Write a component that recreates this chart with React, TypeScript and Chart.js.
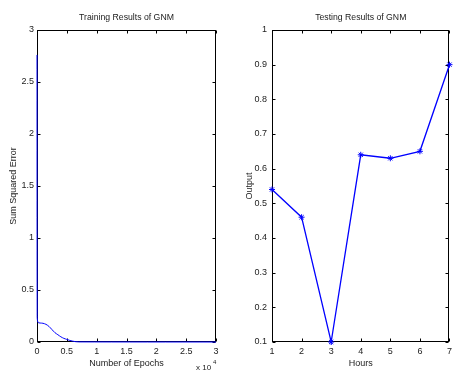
import React, { useEffect, useRef } from "react";
import { Chart, registerables } from "chart.js";

Chart.register(...registerables);

const trainEpochs = [0, 30, 150, 1000, 1500, 2000, 2500, 3000, 3500, 4000, 4500, 5000, 5500, 6000, 6500, 7000, 30000];
const trainSSE = [2.76, 0.28, 0.19, 0.18, 0.17, 0.15, 0.12, 0.09, 0.07, 0.05, 0.035, 0.025, 0.015, 0.008, 0.003, 0.001, 0];

const testHours = [1, 2, 3, 4, 5, 6, 7];
const testOutput = [0.54, 0.46, 0.1, 0.64, 0.63, 0.65, 0.9];

const FONT = "Liberation Sans, Arial, Helvetica, sans-serif";
const TXT = "#222";
const BLUE = "#0000ff";

const framePlugin = {
  id: "frame",
  beforeDatasetsDraw(chart: any) {
    const { ctx, chartArea: a, scales } = chart;
    ctx.save();
    ctx.strokeStyle = "#000";
    ctx.lineWidth = 1;
    const l = Math.round(a.left) + 0.5, r = Math.round(a.right) - 0.5;
    const t = Math.round(a.top) + 0.5, b = Math.round(a.bottom) - 0.5;
    ctx.strokeRect(l, t, r - l, b - t);
    ctx.beginPath();
    const tl = 3;
    scales.x.ticks.forEach((tk: any) => {
      const px = Math.round(scales.x.getPixelForValue(tk.value)) + 0.5;
      ctx.moveTo(px, b); ctx.lineTo(px, b - tl);
      ctx.moveTo(px, t); ctx.lineTo(px, t + tl);
    });
    scales.y.ticks.forEach((tk: any) => {
      const py = Math.round(scales.y.getPixelForValue(tk.value)) + 0.5;
      ctx.moveTo(l, py); ctx.lineTo(l + tl, py);
      ctx.moveTo(r, py); ctx.lineTo(r - tl, py);
    });
    ctx.stroke();
    if (chart.options.plugins.frame && chart.options.plugins.frame.exponent) {
      ctx.fillStyle = TXT;
      ctx.font = `8px ${FONT}`;
      ctx.textBaseline = "alphabetic";
      ctx.textAlign = "left";
      ctx.fillText("x 10", a.right - 20, a.bottom + 28);
      ctx.font = `6px ${FONT}`;
      ctx.fillText("4", a.right - 3, a.bottom + 22);
    }
    ctx.restore();
  },
};

function baseOptions(title: string, xTitle: string, yTitle: string, yWidth: number, yTitlePad: number, padRight: number) {
  return {
    animation: false,
    responsive: false,
    maintainAspectRatio: false,
    layout: { padding: { left: 0, right: padRight, top: 0, bottom: 0 } },
    plugins: {
      legend: { display: false },
      tooltip: { enabled: false },
      title: {
        display: true,
        text: title,
        color: TXT,
        fullSize: false,
        font: { family: FONT, size: 8.7, weight: "normal" },
        padding: { top: 12, bottom: 7.56 },
      },
    },
    scales: {
      x: {
        type: "linear",
        grid: { display: false, drawTicks: false },
        border: { display: false },
        title: {
          display: true,
          text: xTitle,
          color: TXT,
          font: { family: FONT, size: 9 },
          padding: { top: 0, bottom: 2.6 },
        },
        ticks: { color: TXT, font: { family: FONT, size: 9 }, padding: 4, maxRotation: 0, autoSkip: false },
        afterFit: (s: any) => { s.height = 30; },
      },
      y: {
        type: "linear",
        grid: { display: false, drawTicks: false },
        border: { display: false },
        title: {
          display: true,
          text: yTitle,
          color: TXT,
          font: { family: FONT, size: 9 },
          padding: { top: yTitlePad, bottom: 0 },
        },
        ticks: { color: TXT, font: { family: FONT, size: 9 }, padding: 4, autoSkip: false },
        afterFit: (s: any) => { s.width = yWidth; },
      },
    },
  };
}

function TrainChart() {
  const ref = useRef<HTMLCanvasElement>(null);
  useEffect(() => {
    const opts: any = baseOptions("Training Results of GNM", "Number of Epochs", "Sum Squared Error", 37, 8, 14);
    opts.plugins.frame = { exponent: true };
    opts.scales.x.min = 0;
    opts.scales.x.max = 30000;
    opts.scales.x.ticks.stepSize = 5000;
    opts.scales.x.ticks.callback = (v: number) => String(+(v / 10000).toFixed(1));
    opts.scales.y.min = 0;
    opts.scales.y.max = 3;
    opts.scales.y.ticks.stepSize = 0.5;
    opts.scales.y.ticks.padding = 3;
    opts.scales.y.ticks.callback = (v: number) => String(+v.toFixed(1));
    const chart = new Chart(ref.current!, {
      type: "line",
      data: {
        datasets: [
          {
            data: trainEpochs.map((x, i) => ({ x, y: trainSSE[i] })),
            borderColor: BLUE,
            borderWidth: 1,
            pointRadius: 0,
            tension: 0.3,
            fill: false,
            clip: 2,
          },
        ],
      },
      options: opts,
      plugins: [framePlugin],
    });
    return () => chart.destroy();
  }, []);
  return <canvas ref={ref} width={230} height={372} style={{ position: "absolute", left: 0, top: 0, width: 230, height: 372 }} />;
}

function TestChart() {
  const ref = useRef<HTMLCanvasElement>(null);
  useEffect(() => {
    const opts: any = baseOptions("Testing Results of GNM", "Hours", "Output", 42, 14.6, 4);
    opts.plugins.frame = { exponent: false };
    opts.scales.x.min = 1;
    opts.scales.x.max = 7;
    opts.scales.x.ticks.stepSize = 1;
    opts.scales.y.min = 0.1;
    opts.scales.y.max = 1;
    opts.scales.y.ticks.stepSize = 0.1;
    opts.scales.y.ticks.padding = 5;
    opts.scales.y.ticks.callback = (v: number) => String(+v.toFixed(1));
    const chart = new Chart(ref.current!, {
      type: "line",
      data: {
        datasets: [
          {
            data: testHours.map((x, i) => ({ x, y: testOutput[i] })),
            borderColor: BLUE,
            backgroundColor: BLUE,
            borderWidth: 1.3,
            pointStyle: "star",
            pointRadius: 3,
            pointBorderColor: BLUE,
            pointBorderWidth: 1,
            tension: 0,
            fill: false,
            clip: false,
          },
        ],
      },
      options: opts,
      plugins: [framePlugin],
    });
    return () => chart.destroy();
  }, []);
  return <canvas ref={ref} width={226} height={372} style={{ position: "absolute", left: 230, top: 0, width: 226, height: 372 }} />;
}

export default function App() {
  return (
    <div style={{ position: "fixed", left: 0, top: 0, width: 453, height: 372, overflow: "hidden", background: "#fff" }}>
      <TrainChart />
      <TestChart />
    </div>
  );
}
